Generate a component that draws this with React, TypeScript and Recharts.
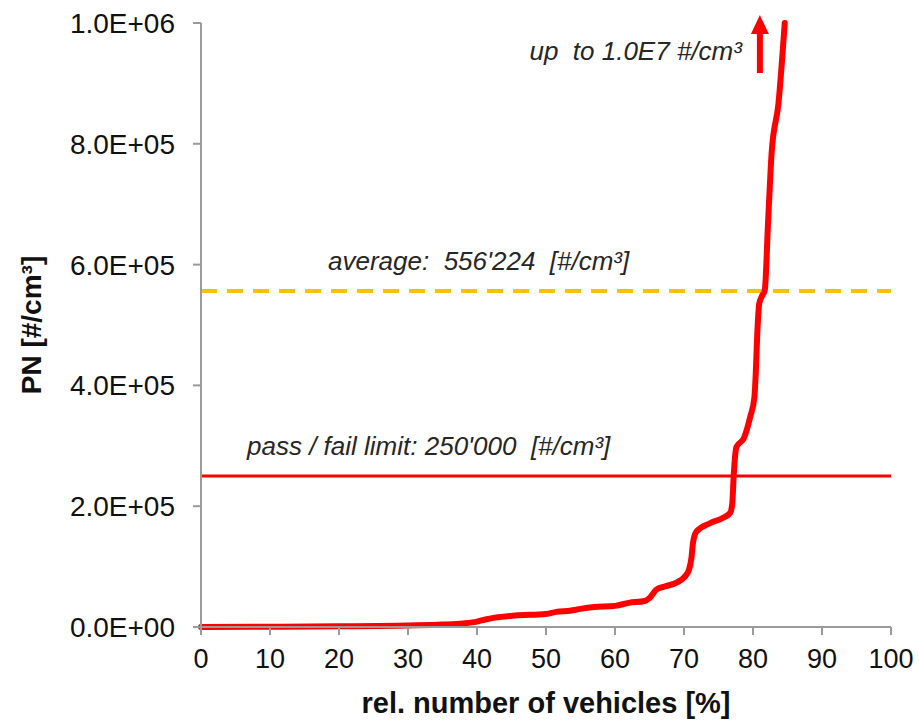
import React from "react";
import {
  LineChart,
  Line,
  XAxis,
  YAxis,
  ReferenceLine,
  ReferenceDot,
} from "recharts";

const FONT = "'Liberation Sans', Arial, sans-serif";

// cumulative share of vehicles [%] vs. particle number [#/cm3]
const vehiclePct = [
  0, 10, 20, 30, 35, 38, 40, 41.2, 42.6, 45.5, 50, 51.5, 53.5, 55, 57, 60, 62,
  64.3, 65, 66, 67.2, 69, 70, 70.7, 71.1, 71.3, 71.8, 73.8, 75.5, 76.7, 77.0,
  77.2, 77.6, 78.7, 79.6, 80.2, 80.4, 80.6, 80.9, 81.3, 81.7, 82.2, 82.7, 83.7,
  84.6,
];
const pnValues = [
  0, 500, 1200, 2500, 4000, 6000, 9000, 12500, 15500, 19000, 21500, 25000,
  27000, 30000, 33000, 35000, 40000, 43000, 48000, 62000, 67000, 74000, 82000,
  94000, 116000, 139000, 158000, 172000, 180000, 189000, 205000, 250000,
  298000, 313000, 348000, 380000, 420000, 480000, 535000, 548000, 557000,
  674000, 785000, 868000, 1000000,
];

const xTicks = [0, 10, 20, 30, 40, 50, 60, 70, 80, 90, 100];
const yTicks = [0, 200000, 400000, 600000, 800000, 1000000];

const AVERAGE = 556224;
const LIMIT = 250000;
const ARROW_AT = 81; // % position of the "up to" arrow

const data = vehiclePct.map((pct, i) => ({ pct, pn: pnValues[i] }));

function sci(v: number) {
  const [m, e] = v.toExponential(1).split("e");
  const sign = e.startsWith("-") ? "-" : "+";
  const digits = e.replace(/[+-]/, "").padStart(2, "0");
  return `${m}E${sign}${digits}`;
}

const annoStyle = {
  fontFamily: FONT,
  fontSize: 26,
  fontStyle: "italic",
  fill: "#262626",
  style: { whiteSpace: "pre" as const },
};

function AverageLabel(props: any) {
  const { viewBox } = props;
  return (
    <text x={viewBox.x + 127} y={viewBox.y - 21} {...annoStyle}>
      {"average:  556'224  [#/cm³]"}
    </text>
  );
}

function LimitLabel(props: any) {
  const { viewBox } = props;
  return (
    <text x={viewBox.x + 46} y={viewBox.y - 21} {...annoStyle}>
      {"pass / fail limit: 250'000  [#/cm³]"}
    </text>
  );
}

function UpArrow(props: any) {
  const { cx, cy } = props;
  return (
    <g>
      <polygon
        points={`${cx},${cy - 8} ${cx - 9},${cy + 11} ${cx + 9},${cy + 11}`}
        fill="#FF0000"
      />
      <rect x={cx - 3} y={cy + 9} width={6} height={41} fill="#FF0000" />
      <text x={cx - 18} y={cy + 37} textAnchor="end" {...annoStyle}>
        {"up  to 1.0E7 #/cm³"}
      </text>
    </g>
  );
}

function XTitle(props: any) {
  const { viewBox } = props;
  return (
    <text
      x={viewBox.x + viewBox.width / 2}
      y={viewBox.y + 86}
      textAnchor="middle"
      fontFamily={FONT}
      fontSize={29}
      fontWeight="bold"
      fill="#111"
    >
      rel. number of vehicles [%]
    </text>
  );
}

function YTitle(props: any) {
  const { viewBox } = props;
  const cx = viewBox.x + 31;
  const cy = viewBox.y + viewBox.height / 2;
  return (
    <text
      x={cx}
      y={cy}
      transform={`rotate(-90, ${cx}, ${cy})`}
      textAnchor="middle"
      dominantBaseline="central"
      fontFamily={FONT}
      fontSize={28}
      fontWeight="bold"
      fill="#111"
    >
      PN [#/cm³]
    </text>
  );
}

export default function App() {
  return (
    <div style={{ position: "absolute", left: 0, top: 0, background: "#fff" }}>
      <LineChart
        width={919}
        height={722}
        data={data}
        margin={{ top: 23, right: 28, left: 0, bottom: 0 }}
        style={{ fontFamily: FONT }}
      >
        <XAxis
          dataKey="pct"
          type="number"
          domain={[0, 100]}
          ticks={xTicks}
          height={95}
          tickSize={8}
          tickMargin={14}
          stroke="#9a9a9a"
          axisLine={{ stroke: "#9a9a9a", strokeWidth: 2 }}
          tickLine={{ stroke: "#9a9a9a", strokeWidth: 2 }}
          tick={{ fontSize: 27, fill: "#111", fontFamily: FONT }}
          interval={0}
          label={<XTitle />}
        />
        <YAxis
          type="number"
          domain={[0, 1000000]}
          ticks={yTicks}
          width={201}
          tickSize={8}
          tickMargin={18}
          tickFormatter={sci}
          stroke="#9a9a9a"
          axisLine={{ stroke: "#9a9a9a", strokeWidth: 2 }}
          tickLine={{ stroke: "#9a9a9a", strokeWidth: 2 }}
          tick={{ fontSize: 28, fill: "#111", fontFamily: FONT }}
          interval={0}
          label={<YTitle />}
        />
        <ReferenceLine
          y={AVERAGE}
          stroke="#FFC000"
          strokeWidth={4}
          strokeDasharray="16 10"
          label={<AverageLabel />}
        />
        <ReferenceLine
          y={LIMIT}
          stroke="#FF0000"
          strokeWidth={3}
          label={<LimitLabel />}
        />
        <Line
          type="monotoneX"
          dataKey="pn"
          stroke="#FF0000"
          strokeWidth={6}
          strokeLinejoin="round"
          strokeLinecap="round"
          dot={false}
          activeDot={false}
          isAnimationActive={false}
        />
        <ReferenceDot
          x={ARROW_AT}
          y={1000000}
          r={0}
          shape={<UpArrow />}
          ifOverflow="visible"
        />
      </LineChart>
    </div>
  );
}
